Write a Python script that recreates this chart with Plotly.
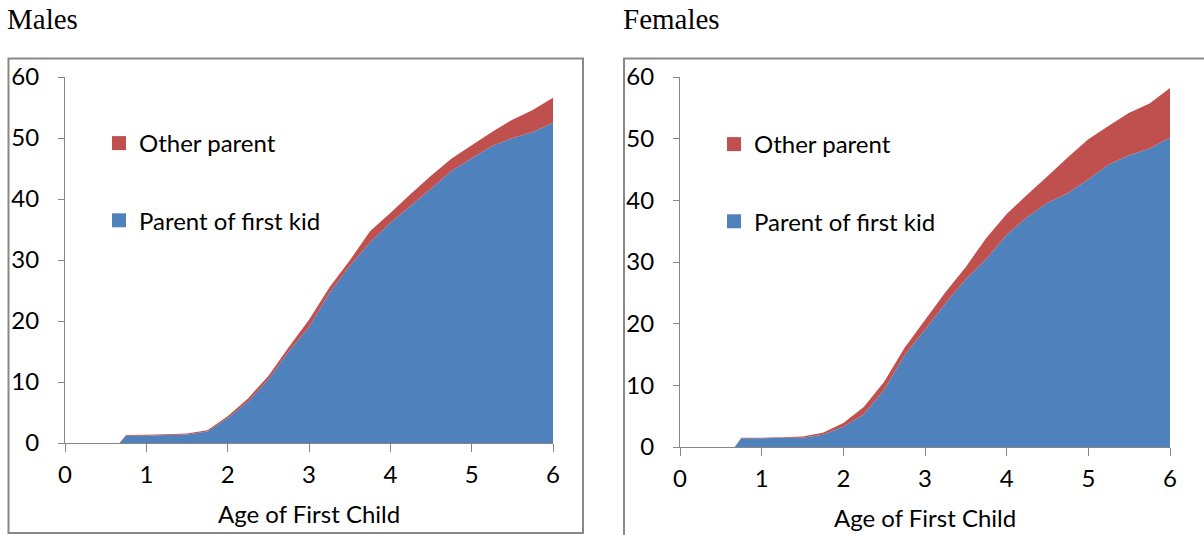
import plotly.graph_objects as go

# ---- data ----
ages = [0, 0.67, 0.75, 1.0, 1.25, 1.5, 1.75, 2.0, 2.25, 2.5, 2.75, 3.0,
        3.25, 3.5, 3.75, 4.0, 4.25, 4.5, 4.75, 5.0, 5.25, 5.5, 5.75, 6.0]

males_first = [0, 0, 1.2, 1.2, 1.3, 1.4, 1.9, 4.1, 6.8, 10.4, 15.0, 19.0,
               24.6, 29.0, 32.9, 36.1, 38.9, 41.7, 44.6, 46.7, 48.7, 50.0, 51.0, 52.5]
males_other = [0, 0, 0.1, 0.15, 0.15, 0.15, 0.2, 0.3, 0.5, 0.6, 0.7, 1.2,
               0.9, 0.9, 1.8, 1.6, 1.9, 2.1, 2.0, 2.1, 2.3, 3.0, 3.6, 4.1]

females_first = [0, 0, 1.4, 1.4, 1.5, 1.5, 2.0, 3.3, 5.3, 9.3, 14.9, 19.0,
                 23.3, 27.2, 30.5, 34.4, 37.3, 39.6, 41.2, 43.4, 45.8, 47.3, 48.4, 50.2]
females_other = [0, 0, 0.1, 0.1, 0.1, 0.2, 0.3, 0.6, 1.2, 1.3, 1.2, 1.6,
                 1.8, 2.0, 3.4, 3.4, 3.6, 4.3, 5.8, 6.5, 6.3, 6.9, 7.3, 8.0]

panel_titles = ["Males", "Females"]
series_names = ["Parent of first kid", "Other parent"]
x_title = "Age of First Child"
x_ticks = [0, 1, 2, 3, 4, 5, 6]
y_ticks = [0, 10, 20, 30, 40, 50, 60]

BLUE = "#4F81BD"
RED = "#C0504D"
AXIS = "#868686"
FONT = "Lato"

W, H = 1204, 535


def px(x):
    return x / W


def py(y):
    return (H - y) / H


fig = go.Figure()

panels = [
    ("x", "y", "legend", "m", males_first, males_other),
    ("x2", "y2", "legend2", "f", females_first, females_other),
]
for xa, ya, leg, grp, first, other in panels:
    fig.add_trace(go.Scatter(x=ages, y=first, xaxis=xa, yaxis=ya, stackgroup=grp,
                             mode="none", fillcolor=BLUE, showlegend=False,
                             name=series_names[0]))
    fig.add_trace(go.Scatter(x=ages, y=other, xaxis=xa, yaxis=ya, stackgroup=grp,
                             mode="none", fillcolor=RED, showlegend=False,
                             name=series_names[1]))
    # legend entries (square swatches)
    fig.add_trace(go.Scatter(x=[None], y=[None], xaxis=xa, yaxis=ya, mode="markers",
                             marker=dict(symbol="square", size=14, color=RED),
                             name=series_names[1], legend=leg, legendgroup=grp + "o"))
    fig.add_trace(go.Scatter(x=[None], y=[None], xaxis=xa, yaxis=ya, mode="markers",
                             marker=dict(symbol="square", size=14, color=BLUE),
                             name=series_names[0], legend=leg, legendgroup=grp + "b"))

axis_common = dict(showline=True, linecolor=AXIS, linewidth=1, ticks="outside",
                   tickcolor=AXIS, showgrid=False, zeroline=False, automargin=False,
                   tickfont=dict(family=FONT, size=24, color="#000000"))

xdoms = [[px(65), px(553)], [px(680), px(1170)]]
ydoms = [[py(443), py(77)], [py(447), py(77)]]

layout = dict(
    width=W, height=H,
    margin=dict(l=0, r=0, t=0, b=0, pad=0, autoexpand=False),
    paper_bgcolor="white", plot_bgcolor="white",
    font=dict(family=FONT, size=24, color="#000000"),
    showlegend=True,
)
for i, (xn, yn) in enumerate([("xaxis", "yaxis"), ("xaxis2", "yaxis2")]):
    ax_x = dict(axis_common, domain=xdoms[i], range=[0, 6], tickvals=x_ticks,
                ticklen=8, ticklabelstandoff=2,
                anchor="y" if i == 0 else "y2")
    ax_y = dict(axis_common, domain=ydoms[i], range=[0, 60], tickvals=y_ticks,
                ticklen=6, ticklabelstandoff=14,
                anchor="x" if i == 0 else "x2")
    layout[xn] = ax_x
    layout[yn] = ax_y

leg_common = dict(font=dict(family=FONT, size=24, color="#000000"),
                  bgcolor="rgba(0,0,0,0)", borderwidth=0, tracegroupgap=43,
                  traceorder="grouped", xanchor="left", yanchor="top",
                  itemclick=False)
layout["legend"] = dict(leg_common, x=px(99), y=py(121))
layout["legend2"] = dict(leg_common, x=px(714), y=py(122))

fig.update_layout(**layout)

# panel frames
fig.add_shape(type="rect", xref="paper", yref="paper", x0=px(8.5), x1=px(583),
              y0=py(533), y1=py(58.5), line=dict(color="#888888", width=2),
              fillcolor="rgba(0,0,0,0)", layer="below")
fig.add_shape(type="rect", xref="paper", yref="paper", x0=px(624), x1=px(1215),
              y0=py(545), y1=py(58.5), line=dict(color="#888888", width=2),
              fillcolor="rgba(0,0,0,0)", layer="below")

# panel titles
fig.add_annotation(text=panel_titles[0], xref="paper", yref="paper", x=px(5), y=py(19),
                   xanchor="left", yanchor="middle", showarrow=False,
                   font=dict(family="Liberation Serif", size=29, color="#000000"))
fig.add_annotation(text=panel_titles[1], xref="paper", yref="paper", x=px(621), y=py(19),
                   xanchor="left", yanchor="middle", showarrow=False,
                   font=dict(family="Liberation Serif", size=29, color="#000000"))

# axis titles
fig.add_annotation(text=x_title, xref="paper", yref="paper", x=px(309), y=py(513),
                   xanchor="center", yanchor="middle", showarrow=False,
                   font=dict(family=FONT, size=24, color="#000000"))
fig.add_annotation(text=x_title, xref="paper", yref="paper", x=px(925), y=py(517),
                   xanchor="center", yanchor="middle", showarrow=False,
                   font=dict(family=FONT, size=24, color="#000000"))

fig.write_html(
    "out.html",
    config={"displayModeBar": False},
    post_script="document.body.style.margin='0px';document.body.style.overflow='hidden';",
)
